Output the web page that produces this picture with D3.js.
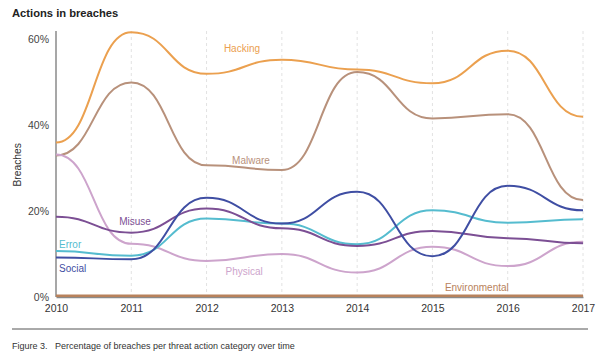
<!DOCTYPE html>
<html>
<head>
<meta charset="utf-8">
<script src="https://cdn.jsdelivr.net/npm/d3@7"></script>
<style>
  body { margin: 0; background: #fff; }
  svg { font-family: "Liberation Sans", Arial, sans-serif; }
</style>
</head>
<body>
<svg id="chart" width="600" height="362"></svg>
<script>
// data (percent of breaches)
var years = [2010, 2011, 2012, 2013, 2014, 2015, 2016, 2017];
var yTicks = [0, 20, 40, 60];

var hacking       = [36, 61.7, 52, 55.3, 53, 49.8, 57.4, 42];
var malware       = [33, 50, 30.7, 29.6, 52.4, 41.6, 42.6, 22.6];
var physical      = [33.2, 12.4, 8.4, 10, 5.7, 11.7, 7.2, 12.9];
var misuse        = [18.7, 15, 20.6, 16, 11.9, 15.4, 13.7, 12.5];
var error         = [10.7, 9.6, 18.3, 17.1, 12.3, 20.2, 17.3, 18.1];
var social        = [9.2, 8.8, 23.1, 17.1, 24.5, 9.5, 25.9, 20.2];
var environmental = [0.3, 0.3, 0.3, 0.3, 0.3, 0.3, 0.3, 0.3];

var seriesNames = ["Environmental", "Hacking", "Malware", "Physical", "Error", "Misuse", "Social"];
var seriesData  = [environmental, hacking, malware, physical, error, misuse, social];
var colors      = ["#b8825c", "#eba04f", "#b8917b", "#cda4cc", "#55bccf", "#7c4f94", "#3f4ea3"];
// where each label sits, in chart units (year, percent)
var labelYear   = [2015.59, 2012.47, 2012.59, 2012.5, 2010.04, 2011.05, 2010.04];
var labelPct    = [2.3, 57.9, 31.9, 6, 12.3, 17.7, 6.7];
var labelAnchor = ["middle", "middle", "middle", "middle", "start", "middle", "start"];

var svg = d3.select("#chart");

var x = d3.scaleLinear().domain([2010, 2017]).range([56, 583]);
var y = d3.scaleLinear().domain([0, 60]).range([297, 39.5]);

// title
svg.append("text")
    .attr("x", 12).attr("y", 17)
    .attr("font-size", 11.2).attr("font-weight", "bold")
    .attr("fill", "#222")
    .text("Actions in breaches");

// dashed year gridlines
svg.append("g").selectAll("line")
    .data(years.slice(1))
    .enter().append("line")
    .attr("x1", function(d) { return x(d); })
    .attr("x2", function(d) { return x(d); })
    .attr("y1", 31).attr("y2", y(0))
    .attr("stroke", "#e2e2e2")
    .attr("stroke-dasharray", "3,3");

// y axis
var yAxis = svg.append("g")
    .attr("transform", "translate(" + x(2010) + ",0)")
    .call(d3.axisLeft(y).tickValues(yTicks).tickSize(0).tickPadding(7)
        .tickFormat(function(d) { return d + "%"; }));
yAxis.select(".domain").remove();
yAxis.selectAll("text").attr("font-size", 10.5).attr("fill", "#444")
    .attr("font-family", "Liberation Sans, Arial, sans-serif");
svg.append("line")
    .attr("x1", x(2010)).attr("x2", x(2010))
    .attr("y1", 31).attr("y2", y(0))
    .attr("stroke", "#8a8a8a").attr("stroke-width", 1.5);

// x axis
var xAxis = svg.append("g")
    .attr("transform", "translate(0," + y(0) + ")")
    .call(d3.axisBottom(x).tickValues(years).tickSize(0).tickPadding(8)
        .tickFormat(d3.format("d")));
xAxis.select(".domain").attr("stroke", "#8a8a8a").attr("stroke-width", 1.5);
xAxis.selectAll("text").attr("font-size", 10.5).attr("fill", "#333")
    .attr("font-family", "Liberation Sans, Arial, sans-serif");

// axis title
svg.append("text")
    .attr("transform", "translate(21," + y(30.8) + ") rotate(-90)")
    .attr("text-anchor", "middle")
    .attr("font-size", 10.3).attr("fill", "#333")
    .text("Breaches");

// lines
var line = d3.line()
    .x(function(d, i) { return x(years[i]); })
    .y(function(d) { return y(d); })
    .curve(d3.curveBumpX);

svg.append("g").selectAll("path")
    .data(seriesData)
    .enter().append("path")
    .attr("d", line)
    .attr("fill", "none")
    .attr("stroke", function(d, i) { return colors[i]; })
    .attr("stroke-width", function(d, i) { return i == 0 ? 2.5 : 2; });

// series labels
svg.append("g").selectAll("text")
    .data(seriesNames)
    .enter().append("text")
    .attr("x", function(d, i) { return x(labelYear[i]); })
    .attr("y", function(d, i) { return y(labelPct[i]); })
    .attr("dy", "0.35em")
    .attr("text-anchor", function(d, i) { return labelAnchor[i]; })
    .attr("font-size", 10)
    .attr("fill", function(d, i) { return colors[i]; })
    .text(function(d) { return d; });

// caption
svg.append("line")
    .attr("x1", 12).attr("x2", 588)
    .attr("y1", 329).attr("y2", 329)
    .attr("stroke", "#555").attr("stroke-width", 1);
svg.append("text")
    .attr("x", 12).attr("y", 349)
    .attr("font-size", 9).attr("fill", "#333")
    .attr("xml:space", "preserve")
    .text("Figure 3.   Percentage of breaches per threat action category over time");
</script>
</body>
</html>
